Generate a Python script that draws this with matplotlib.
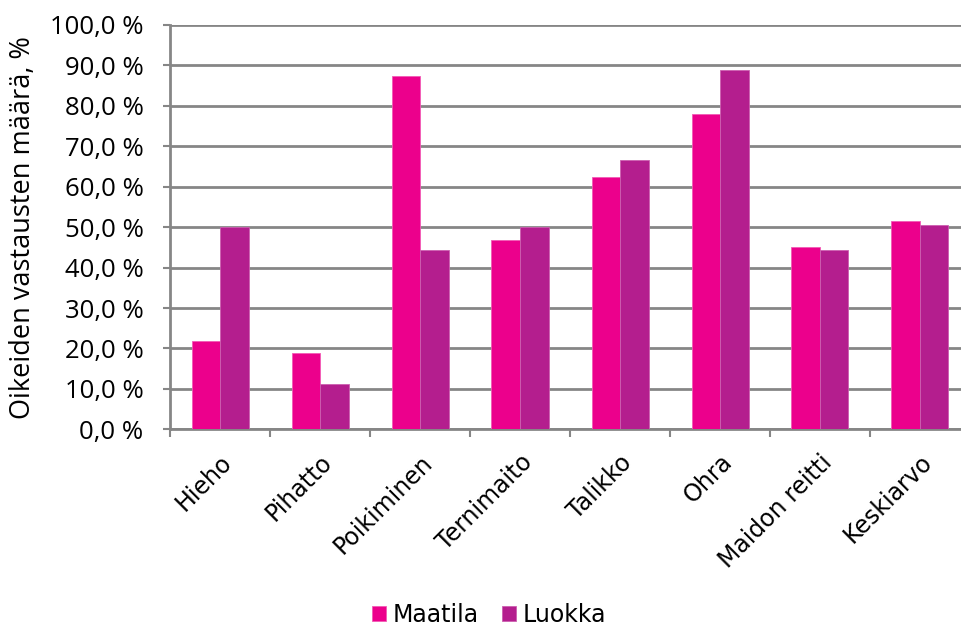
import numpy as np
import matplotlib
matplotlib.use('Agg')
import matplotlib.pyplot as plt
from matplotlib.ticker import FuncFormatter

categories = ['Hieho', 'Pihatto', 'Poikiminen', 'Ternimaito', 'Talikko', 'Ohra', 'Maidon reitti', 'Keskiarvo']
maatila = [21.9, 18.8, 87.5, 46.9, 62.5, 78.1, 45.0, 51.4]
luokka = [50.0, 11.1, 44.4, 50.0, 66.7, 88.9, 44.4, 50.6]

plt.rcParams['font.family'] = ['DejaVu Sans']

fig = plt.figure(figsize=(9.62, 6.28), dpi=100)
ax = fig.add_axes([170/962, (628-429.3)/628, 800/962, (429.3-25)/628])

x = np.arange(len(categories))
w = 0.285
ax.bar(x - w/2, maatila, w, color='#EC008C', edgecolor='#F25BB5', linewidth=0.6, label='Maatila', zorder=3)
ax.bar(x + w/2, luokka, w, color='#B41E8E', edgecolor='#CC5FB0', linewidth=0.6, label='Luokka', zorder=3)

ax.set_xlim(-0.5, len(categories) - 0.5)
ax.set_ylim(0, 100)
ax.set_yticks(np.arange(0, 101, 10))
ax.yaxis.set_major_formatter(FuncFormatter(lambda v, p: f'{v:.1f} %'.replace('.', ',')))
ax.yaxis.grid(True, color='#868686', linewidth=2, zorder=0)
for t in ax.get_yticklabels():
    t.set_fontfamily('Open Sans')

ax.set_xticks(np.arange(len(categories) + 1) - 0.5, minor=False)
ax.set_xticklabels([])
ax.set_xticks(x, minor=True)
ax.set_xticklabels(categories, minor=True, rotation=45, ha='right', rotation_mode='anchor', fontsize=17)
ax.tick_params(axis='x', which='minor', length=0, pad=15)
ax.tick_params(axis='x', which='major', length=6, width=1.5, color='#868686')
ax.tick_params(axis='y', length=5, width=1.5, color='#868686', labelsize=18.5, pad=14)

for s in ['top', 'right']:
    ax.spines[s].set_visible(False)
for s in ['left', 'bottom']:
    ax.spines[s].set_color('#868686')
    ax.spines[s].set_linewidth(2)

ax.set_ylabel('Oikeiden vastausten määrä, %', fontsize=19.5, family='Open Sans')
ax.yaxis.set_label_coords(-(170 - 37)/800, 0.5)

fig.legend(loc='center', bbox_to_anchor=(489/962, 13/628), ncol=2, frameon=False,
           fontsize=17, handlelength=0.6, handleheight=0.6, handletextpad=0.25, columnspacing=1.0)

fig.savefig('out.png', dpi=100)
